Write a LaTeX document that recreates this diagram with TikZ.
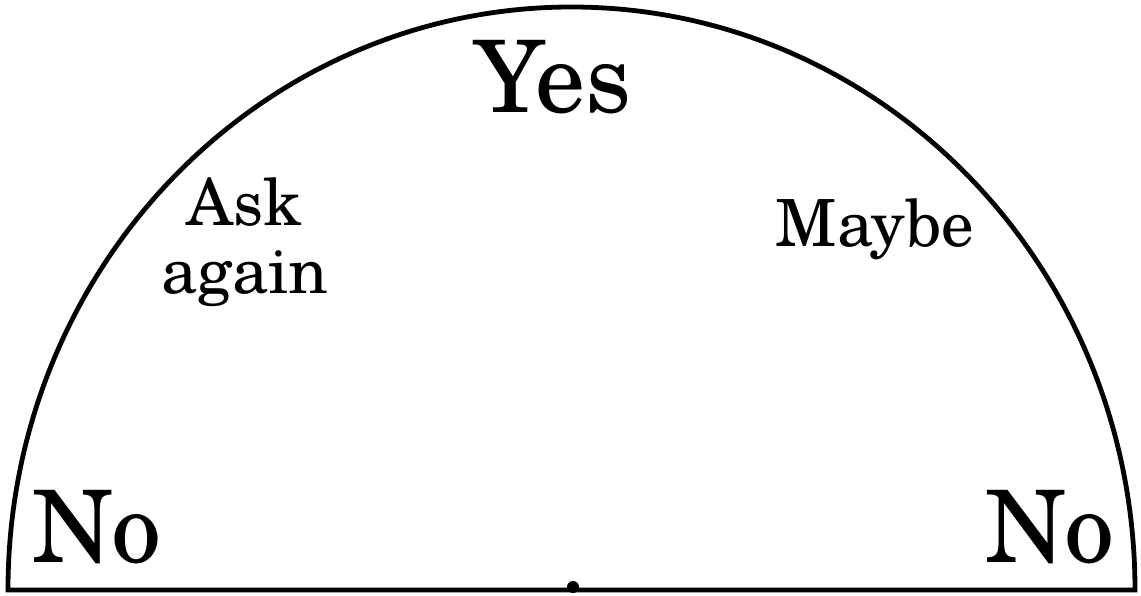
\documentclass[tikz,border=0pt]{standalone}
\usepackage{fontspec}
\setmainfont{TeX Gyre Schola}
\begin{document}
\begin{tikzpicture}[x=0.5pt,y=-0.5pt,
  dial/.style={line width=2.4pt,line join=miter},
  big/.style={font=\fontsize{50}{54}\selectfont,inner sep=0pt,anchor=base},
  small/.style={font=\fontsize{32.5}{34}\selectfont,inner sep=0pt,anchor=base}]
\useasboundingbox (0,0) rectangle (1141,595);
\draw[dial] (8,590) arc[start angle=180,end angle=360,x radius=563.5,y radius=583] -- cycle;
\coordinate (pivot) at (573,587);
\fill (pivot) circle[radius=6];
\node[big] (yes) at (553,112) {Yes};
\node[big] (noL) at (97,562) {No};
\node[big] (noR) at (1050,562) {No};
\node[small] (ask) at (244,225) {Ask};
\node[small] (again) at (245,293) {again};
\node[small] (maybe) at (875,246) {Maybe};
\end{tikzpicture}
\end{document}
